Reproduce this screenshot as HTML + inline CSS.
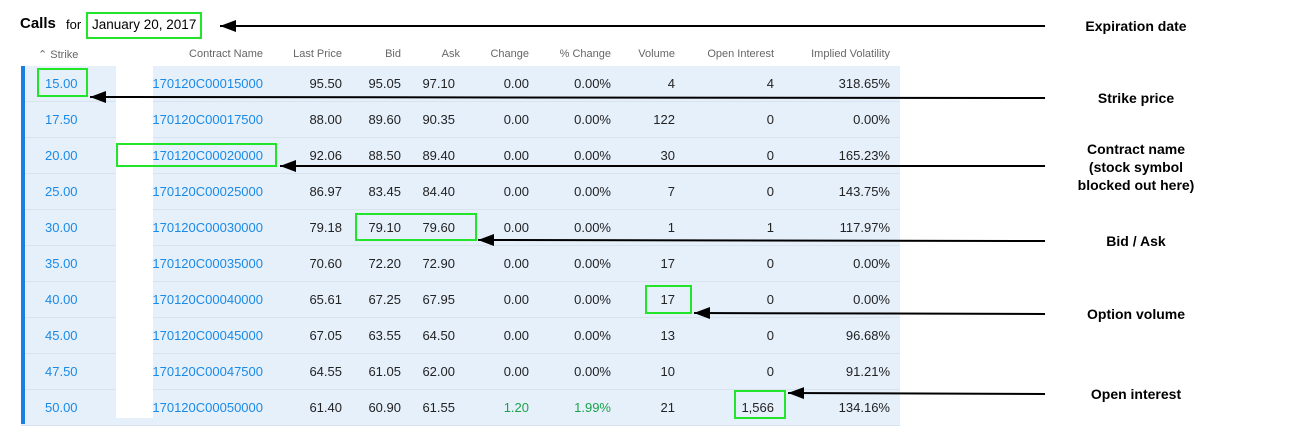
<!DOCTYPE html>
<html><head><meta charset="utf-8"><style>
body{margin:0;width:1292px;height:426px;background:#fff;font-family:"Liberation Sans",Arial,sans-serif;position:relative;overflow:hidden}
.a{position:absolute;white-space:nowrap}
.r{position:absolute;left:21px;width:879px;height:35px;background:#e6f0fb;border-bottom:1px solid #d9e3ee}
.bar{position:absolute;left:21px;width:4px;top:66px;height:358px;background:#1a7fe0}
.c{position:absolute;font-size:13px;color:#222;text-align:right}
.h{position:absolute;top:48px;font-size:11px;color:#666;text-align:right}
.bl{color:#1a8ae6}
.g{position:absolute;border:2px solid #22e52a;box-sizing:border-box}
.lbl{position:absolute;font-size:14px;font-weight:bold;text-align:center;width:160px;color:#000;line-height:18px}
</style></head><body>
<div class="a" style="left:20px;top:15px;font-size:15px;font-weight:bold">Calls</div>
<div class="a" style="left:66px;top:17px;font-size:13px">for</div>
<div class="a" style="left:92px;top:17px;font-size:13.5px">January 20, 2017</div>
<div class="g" style="left:86px;top:12px;width:116px;height:27px"></div>
<div class="h" style="left:38px;text-align:left">⌃ Strike</div>
<div class="h" style="left:160px;width:103px">Contract Name</div>
<div class="h" style="left:270px;width:72px">Last Price</div>
<div class="h" style="left:350px;width:51px">Bid</div>
<div class="h" style="left:410px;width:50px">Ask</div>
<div class="h" style="left:470px;width:59px">Change</div>
<div class="h" style="left:540px;width:71px">% Change</div>
<div class="h" style="left:620px;width:55px">Volume</div>
<div class="h" style="left:690px;width:84px">Open Interest</div>
<div class="h" style="left:790px;width:100px">Implied Volatility</div>
<div id="rows"></div>
<div class="bar"></div>
<div class="a" style="left:116px;top:66px;width:37px;height:352px;background:#fff"></div>
<div id="cells"></div>
<div class="g" style="left:37px;top:68px;width:51px;height:29px"></div>
<div class="g" style="left:116px;top:143px;width:161px;height:24px"></div>
<div class="g" style="left:355px;top:213px;width:122px;height:28px"></div>
<div class="g" style="left:645px;top:285px;width:47px;height:29px"></div>
<div class="g" style="left:734px;top:390px;width:52px;height:29px"></div>
<svg class="a" style="left:0;top:0" width="1292" height="426">
<defs><marker id="m" markerWidth="8" markerHeight="6" refX="0" refY="3" orient="auto"><path d="M8,0 L0,3 L8,6z" fill="#000"/></marker></defs>
<g stroke="#000" stroke-width="2" marker-start="url(#m)">
<line x1="220" y1="26" x2="1045" y2="26"/>
<line x1="90" y1="97" x2="1045" y2="98"/>
<line x1="280" y1="166" x2="1045" y2="166"/>
<line x1="478" y1="240" x2="1045" y2="241"/>
<line x1="694" y1="313" x2="1045" y2="314"/>
<line x1="788" y1="393" x2="1045" y2="394"/>
</g></svg>
<div class="lbl" style="left:1056px;top:17px">Expiration date</div>
<div class="lbl" style="left:1056px;top:89px">Strike price</div>
<div class="lbl" style="left:1056px;top:140px">Contract name<br>(stock symbol<br>blocked out here)</div>
<div class="lbl" style="left:1056px;top:232px">Bid / Ask</div>
<div class="lbl" style="left:1056px;top:305px">Option volume</div>
<div class="lbl" style="left:1056px;top:385px">Open interest</div>
<script>
var d=[["15.00","15000","95.50","95.05","97.10","0.00","0.00%","4","4","318.65%"],
["17.50","17500","88.00","89.60","90.35","0.00","0.00%","122","0","0.00%"],
["20.00","20000","92.06","88.50","89.40","0.00","0.00%","30","0","165.23%"],
["25.00","25000","86.97","83.45","84.40","0.00","0.00%","7","0","143.75%"],
["30.00","30000","79.18","79.10","79.60","0.00","0.00%","1","1","117.97%"],
["35.00","35000","70.60","72.20","72.90","0.00","0.00%","17","0","0.00%"],
["40.00","40000","65.61","67.25","67.95","0.00","0.00%","17","0","0.00%"],
["45.00","45000","67.05","63.55","64.50","0.00","0.00%","13","0","96.68%"],
["47.50","47500","64.55","61.05","62.00","0.00","0.00%","10","0","91.21%"],
["50.00","50000","61.40","60.90","61.55","1.20","1.99%","21","1,566","134.16%"]];
var R=[263,342,401,455,529,611,675,774,890],rh="",ch="";
d.forEach(function(r,i){var t=66+i*36;rh+='<div class="r" style="top:'+t+'px"></div>';var y=t+10;
ch+='<div class="c bl" style="left:45px;top:'+y+'px;text-align:left">'+r[0]+'</div>';
var v=["170120C000"+r[1]].concat(r.slice(2));
v.forEach(function(s,j){var cls="c"+(j==0?" bl":"");var col=(i==9&&(j==4||j==5))?";color:#1aa34a":"";
ch+='<div class="'+cls+'" style="left:'+(R[j]-150)+'px;width:150px;top:'+y+'px'+col+'">'+s+'</div>';});});
document.getElementById("rows").innerHTML=rh;document.getElementById("cells").innerHTML=ch;
</script>
</body></html>
